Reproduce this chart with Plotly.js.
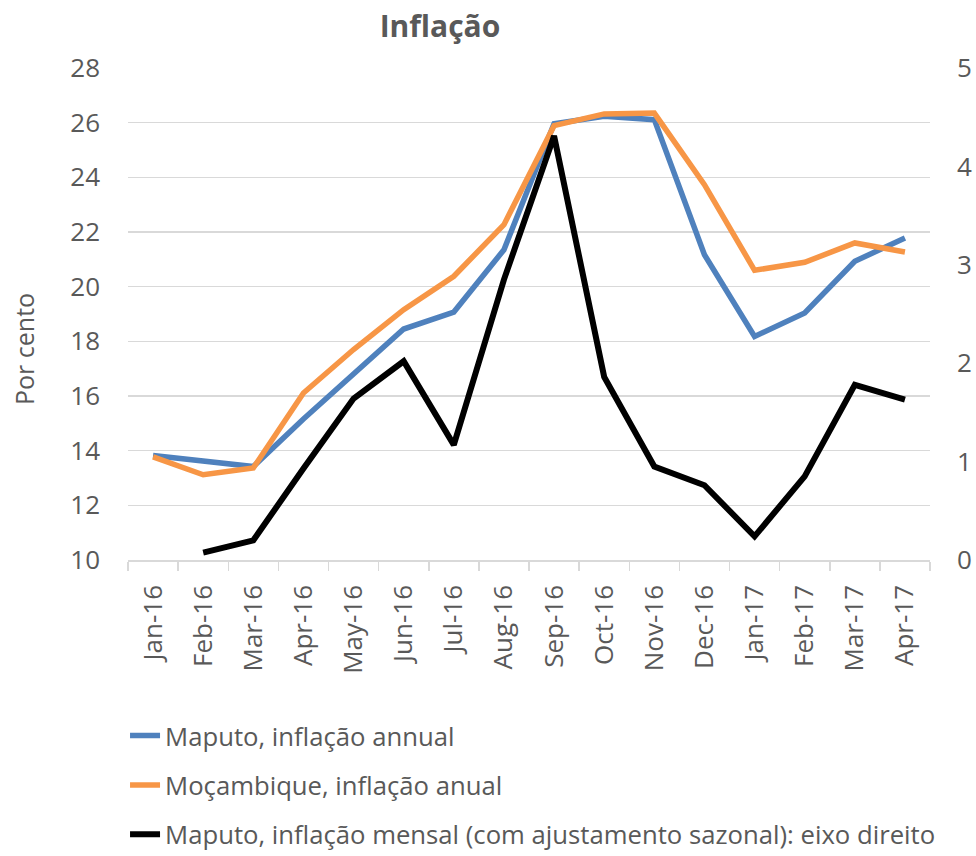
<!DOCTYPE html>
<html>
<head>
<meta charset="utf-8">
<script src="https://cdn.plot.ly/plotly-3.0.1.min.js"></script>
<style>html,body{margin:0;padding:0;background:#fff;}#chart{width:976px;height:856px;}</style>
</head>
<body>
<div id="chart"></div>
<script>
const months = ["Jan-16","Feb-16","Mar-16","Apr-16","May-16","Jun-16","Jul-16","Aug-16","Sep-16","Oct-16","Nov-16","Dec-16","Jan-17","Feb-17","Mar-17","Apr-17"];
const maputoAnnual = [13.82,13.62,13.42,15.16,16.78,18.45,19.07,21.35,25.96,26.23,26.11,21.17,18.18,19.04,20.93,21.78];
const mozAnnual = [13.77,13.12,13.37,16.11,17.7,19.16,20.38,22.27,25.89,26.32,26.35,23.73,20.6,20.89,21.6,21.27];
const maputoMonthly = [null,0.075,0.2,0.93,1.64,2.02,1.17,2.85,4.31,1.86,0.95,0.76,0.24,0.85,1.78,1.63];
const seriesNames = ["Maputo, inflação annual","Moçambique, inflação anual","Maputo, inflação mensal (com ajustamento sazonal): eixo direito"];
const leftTicks = [10,12,14,16,18,20,22,24,26,28];
const rightTicks = [0,1,2,3,4,5];
const yTitle = "Por cento";
const chartTitle = "Inflação";

const FONT = "Open Sans, sans-serif";
const GREY = "#595959";
const GRID = "#d9d9d9";

const traces = [
  {x: months, y: maputoAnnual, name: seriesNames[0], type: "scatter", mode: "lines", legendgroup: "a",
   line: {color: "#4f81bd", width: 5.5}},
  {x: months, y: mozAnnual, name: seriesNames[1], type: "scatter", mode: "lines", legendgroup: "b",
   line: {color: "#f79646", width: 5.5}},
  {x: months, y: maputoMonthly, name: seriesNames[2], type: "scatter", mode: "lines", legendgroup: "c",
   yaxis: "y2", line: {color: "#000000", width: 6}}
];

const layout = {
  width: 976, height: 856,
  paper_bgcolor: "#fff", plot_bgcolor: "#fff",
  margin: {l: 128, r: 46, t: 68, b: 296, autoexpand: false},
  font: {family: FONT, color: GREY, size: 25},
  title: {text: "<b>" + chartTitle + "</b>", font: {family: FONT, size: 30, color: GREY},
          x: 440/976, xanchor: "center", xref: "container", y: 1 - 26/856, yanchor: "middle", yref: "container"},
  showlegend: true,
  legend: {orientation: "v", x: -0.0037, xanchor: "left", y: -0.3096, yanchor: "top",
           font: {family: FONT, size: 25.7, color: GREY}, traceorder: "grouped", tracegroupgap: 13,
           bgcolor: "rgba(0,0,0,0)"},
  annotations: [
    {text: yTitle, xref: "paper", yref: "paper", x: -0.1297, y: 0.4289,
     xanchor: "center", yanchor: "middle", textangle: -90, showarrow: false,
     font: {family: FONT, size: 25, color: GREY}}
  ],
  xaxis: {type: "category", range: [-0.5, 15.5], tickangle: -90, showgrid: false,
          showline: true, linecolor: GRID, linewidth: 1.5,
          ticks: "outside", tickson: "boundaries", ticklen: 9, tickcolor: GRID, tickwidth: 1.5,
          tickfont: {family: FONT, size: 26, color: GREY}, ticklabelstandoff: 13, zeroline: false},
  yaxis: {range: [10, 28], tickvals: leftTicks, ticktext: leftTicks.map(String),
          showgrid: true, gridcolor: GRID, gridwidth: 1.5, zeroline: false, showline: false,
          ticks: "", tickfont: {family: FONT, size: 26, color: GREY}, ticklabelstandoff: 27},
  yaxis2: {range: [0, 5], tickvals: rightTicks, ticktext: rightTicks.map(String),
           overlaying: "y", side: "right", showgrid: false, zeroline: false, showline: false,
           ticks: "", tickfont: {family: FONT, size: 26, color: GREY}, ticklabelstandoff: 26}
};

Plotly.newPlot("chart", traces, layout, {displayModeBar: false, staticPlot: true});
</script>
</body>
</html>
